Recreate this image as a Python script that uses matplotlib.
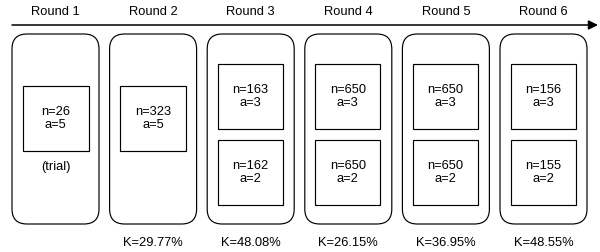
import matplotlib.pyplot as plt
from matplotlib.patches import FancyBboxPatch, Rectangle

plt.rcParams['font.family'] = ['Liberation Sans', 'DejaVu Sans']

rounds = ['Round 1', 'Round 2', 'Round 3', 'Round 4', 'Round 5', 'Round 6']
n_top = [26, 323, 163, 650, 650, 156]
a_top = [5, 5, 3, 3, 3, 3]
n_bot = [None, None, 162, 650, 650, 155]
a_bot = [None, None, 2, 2, 2, 2]
kappa = [None, '29.77%', '48.08%', '26.15%', '36.95%', '48.55%']
notes = ['(trial)', None, None, None, None, None]

fig = plt.figure(figsize=(6, 2.52), dpi=100)
ax = fig.add_axes([0, 0, 1, 1])
ax.set_xlim(0, 600)
ax.set_ylim(252, 0)
ax.axis('off')

fs = 9.3
lw = 0.85

# time arrow
ax.annotate('', xy=(598, 25), xytext=(12, 25),
            arrowprops=dict(arrowstyle='-|>', color='black', lw=1.1,
                            mutation_scale=14, shrinkA=0, shrinkB=0))

x0 = 12
step = 97.6
w = 87
for i, r in enumerate(rounds):
    x = x0 + i * step
    cx = x + w / 2
    ax.text(cx, 12, r, ha='center', va='center', fontsize=fs)
    box = FancyBboxPatch((x + 15, 34 + 15), w - 30, 190 - 30,
                         boxstyle='round,pad=15', fc='white', ec='black', lw=lw)
    ax.add_patch(box)
    if n_bot[i] is None:
        ax.add_patch(Rectangle((cx - 33, 86), 66, 65, fc='white', ec='black', lw=lw))
        ax.text(cx, 118.5, 'n=%d\na=%d' % (n_top[i], a_top[i]), ha='center',
                va='center', fontsize=fs, linespacing=1.2)
    else:
        for y, n, a in [(64, n_top[i], a_top[i]), (140, n_bot[i], a_bot[i])]:
            ax.add_patch(Rectangle((cx - 33, y), 65, 65, fc='white', ec='black', lw=lw))
            ax.text(cx - 0.5, y + 32.5, 'n=%d\na=%d' % (n, a), ha='center',
                    va='center', fontsize=fs, linespacing=1.2)
    if notes[i]:
        ax.text(cx, 167, notes[i], ha='center', va='center', fontsize=fs)
    if kappa[i]:
        ax.text(cx, 243, 'K=' + kappa[i], ha='center', va='center', fontsize=fs)

fig.savefig('out.png', dpi=100, facecolor='white')
